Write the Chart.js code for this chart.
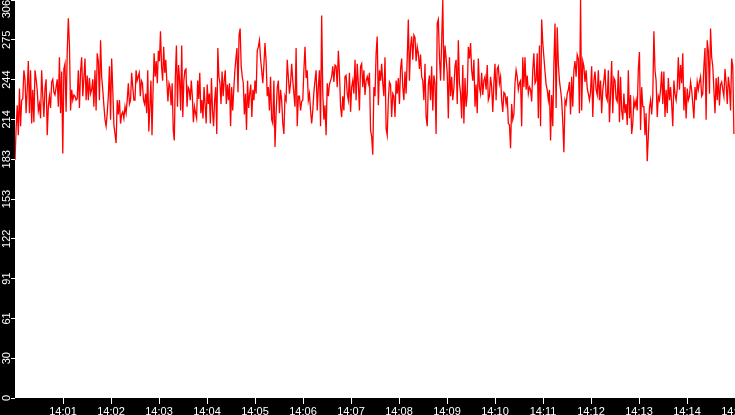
<!DOCTYPE html>
<html><head><meta charset="utf-8">
<script src="https://cdn.jsdelivr.net/npm/chart.js@4.4.0/dist/chart.umd.min.js"></script>
<style>html,body{margin:0;padding:0;background:#000;overflow:hidden}canvas{display:block}</style>
</head><body>
<canvas id="c" width="735" height="415"></canvas>
<script>
// Values, in six consecutive 2.5-minute stretches (14:00 - 14:15)
const seg1 = [183, 207, 225, 202, 238, 209, 229, 230, 252, 245, 219, 237, 259, 219, 252, 211, 237, 212, 252, 245, 237, 221, 226, 215, 252, 232, 216, 238, 245, 202, 224, 232, 223, 243, 245, 235, 233, 239, 245, 224, 262, 219, 251, 188, 253, 257, 220, 266, 292, 271, 221, 237, 229, 233, 232, 229, 230, 252, 223, 251, 262, 232, 246, 261, 229, 248, 229, 246, 234, 237, 245, 224, 252, 221, 265, 259, 229, 275, 247, 237, 225, 214, 209, 219, 232, 255, 214, 261, 237, 210, 203, 196, 229, 218, 229, 211, 218, 220, 215, 224, 219, 229, 242, 226, 229, 250, 239, 229];
const seg2 = [229, 252, 244, 247, 250, 232, 244, 242, 229, 226, 234, 219, 252, 205, 224, 244, 202, 237, 265, 247, 259, 242, 267, 259, 282, 255, 244, 270, 250, 260, 243, 228, 242, 239, 225, 242, 206, 198, 247, 271, 224, 256, 244, 221, 271, 216, 244, 252, 253, 224, 239, 237, 229, 244, 232, 212, 224, 219, 215, 244, 230, 250, 219, 229, 215, 239, 226, 211, 241, 226, 234, 211, 246, 221, 209, 229, 239, 203, 269, 247, 242, 226, 251, 232, 244, 252, 226, 241, 229, 242, 209, 239, 221, 237, 251, 261, 269, 235, 279, 284, 255, 247, 242, 218, 234, 206, 244, 223, 234, 241, 216, 237, 229];
const seg3 = [244, 234, 267, 270, 275, 261, 252, 242, 256, 273, 259, 232, 239, 221, 247, 214, 211, 244, 193, 219, 238, 244, 219, 237, 229, 211, 203, 232, 229, 260, 247, 234, 242, 257, 244, 234, 224, 269, 209, 232, 232, 221, 228, 229, 252, 270, 246, 252, 229, 234, 221, 211, 221, 235, 244, 252, 221, 239, 252, 209, 294, 234, 214, 225, 202, 242, 232, 241, 244, 247, 255, 243, 256, 255, 239, 267, 250, 224, 216, 232, 221, 247, 248, 234, 229, 250, 220, 239, 244, 234, 260, 229, 257, 242, 221, 255, 257, 239, 252, 233, 244, 247, 242, 250, 206, 201, 187, 239];
const seg4 = [232, 265, 278, 225, 252, 244, 257, 242, 232, 262, 207, 202, 229, 243, 241, 216, 234, 232, 216, 244, 234, 246, 226, 253, 261, 239, 229, 251, 234, 261, 291, 244, 270, 278, 260, 279, 277, 259, 270, 265, 253, 264, 247, 244, 229, 257, 216, 209, 241, 248, 229, 255, 221, 248, 242, 203, 288, 291, 262, 244, 274, 306, 244, 271, 261, 250, 215, 262, 232, 247, 229, 238, 255, 260, 226, 275, 242, 234, 215, 256, 211, 246, 224, 234, 270, 261, 273, 252, 244, 260, 224, 241, 219, 261, 239, 234, 250, 233, 244, 247, 237, 256, 229, 232, 247, 239, 220, 242];
const seg5 = [257, 229, 253, 255, 242, 247, 229, 220, 235, 234, 226, 232, 211, 210, 192, 226, 214, 218, 242, 252, 247, 237, 242, 244, 209, 262, 239, 262, 237, 248, 234, 239, 237, 228, 252, 265, 242, 244, 265, 215, 271, 209, 291, 273, 262, 251, 241, 237, 229, 237, 198, 233, 209, 257, 288, 223, 285, 257, 244, 237, 229, 212, 189, 229, 226, 234, 237, 243, 218, 247, 224, 252, 259, 247, 264, 261, 219, 306, 221, 259, 255, 243, 252, 238, 234, 229, 235, 255, 216, 244, 251, 237, 233, 252, 229, 244, 219, 237, 244, 253, 232, 229, 252, 212, 234, 259, 219, 246];
const seg6 = [244, 230, 228, 252, 212, 247, 221, 214, 234, 219, 226, 210, 252, 215, 233, 203, 211, 229, 224, 229, 221, 253, 266, 206, 239, 224, 224, 202, 219, 182, 201, 223, 229, 218, 232, 282, 252, 244, 216, 232, 229, 237, 251, 226, 251, 216, 237, 219, 246, 229, 239, 226, 209, 244, 234, 229, 238, 262, 237, 256, 242, 265, 221, 239, 215, 238, 229, 232, 243, 237, 226, 215, 239, 229, 243, 237, 243, 247, 232, 234, 255, 269, 214, 275, 267, 234, 284, 262, 255, 237, 219, 246, 229, 247, 225, 241, 243, 237, 232, 253, 242, 226, 247, 239, 221, 261, 255, 203];
const segments = [seg1, seg2, seg3, seg4, seg5, seg6];
const segmentSeconds = 150;

const yTickValues = [0, 30.6, 61.2, 91.8, 122.4, 153, 183.6, 214.2, 244.8, 275.4, 306];
const yTickLabels = ['0', '30', '61', '91', '122', '153', '183', '214', '244', '275', '306'];
const xTickSeconds = [60, 120, 180, 240, 300, 360, 420, 480, 540, 600, 660, 720, 780, 840, 900];
const xTickLabels = ['14:01', '14:02', '14:03', '14:04', '14:05', '14:06', '14:07', '14:08', '14:09', '14:10', '14:11', '14:12', '14:13', '14:14', '14:15'];

const points = [];
segments.forEach((seg, k) => {
  seg.forEach((v, i) => points.push({ x: k * segmentSeconds + i * segmentSeconds / seg.length, y: v }));
});

const FONT = '"Liberation Sans", Arial, sans-serif';

const plotBg = {
  id: 'plotBg',
  beforeDraw(chart) {
    const { ctx, chartArea: a } = chart;
    ctx.save();
    ctx.fillStyle = '#000';
    ctx.fillRect(0, 0, chart.width, chart.height);
    ctx.fillStyle = '#fff';
    ctx.fillRect(a.left, a.top, a.right - a.left, a.bottom - a.top);
    ctx.restore();
  }
};

const yLabels = {
  id: 'yLabels',
  afterDraw(chart) {
    const s = chart.scales.y;
    const ctx = chart.ctx;
    ctx.save();
    ctx.font = '11px ' + FONT;
    ctx.fillStyle = '#fff';
    ctx.textAlign = 'center';
    ctx.textBaseline = 'alphabetic';
    s.ticks.forEach((t, i) => {
      const lab = yTickLabels[i];
      const w = ctx.measureText(lab).width;
      let y = s.getPixelForValue(t.value);
      y = Math.max(w / 2, Math.min(chart.height - w / 2, y));
      ctx.save();
      ctx.translate(10, y);
      ctx.rotate(-Math.PI / 2);
      ctx.fillText(lab, 0, 0);
      ctx.restore();
    });
    ctx.restore();
  }
};

new Chart(document.getElementById('c'), {
  type: 'line',
  data: {
    datasets: [{
      data: points,
      borderColor: '#ff0000',
      borderWidth: 1.3,
      pointRadius: 0,
      tension: 0,
      fill: false
    }]
  },
  options: {
    responsive: false,
    devicePixelRatio: 1,
    animation: false,
    layout: { padding: 0 },
    plugins: { legend: { display: false }, tooltip: { enabled: false } },
    scales: {
      x: {
        type: 'linear',
        min: 0,
        max: 900,
        afterBuildTicks(scale) { scale.ticks = xTickSeconds.map(v => ({ value: v })); },
        afterFit(scale) { scale.height = 17; scale.paddingLeft = 0; scale.paddingRight = 0; },
        border: { display: false },
        grid: { drawOnChartArea: false, drawTicks: true, tickLength: 6, color: '#fff', lineWidth: 1 },
        ticks: {
          color: '#fff',
          font: { family: FONT, size: 11 },
          padding: 1,
          maxRotation: 0,
          minRotation: 0,
          autoSkip: false,
          callback: (v, i) => xTickLabels[i]
        }
      },
      y: {
        min: 0,
        max: 306,
        afterBuildTicks(scale) { scale.ticks = yTickValues.map(v => ({ value: v })); },
        afterFit(scale) { scale.width = 15; scale.paddingTop = 0; scale.paddingBottom = 0; },
        border: { display: false },
        grid: { drawOnChartArea: false, drawTicks: true, tickLength: 4, color: '#fff', lineWidth: 1 },
        ticks: { display: false }
      }
    }
  },
  plugins: [plotBg, yLabels]
});
</script>
</body></html>
